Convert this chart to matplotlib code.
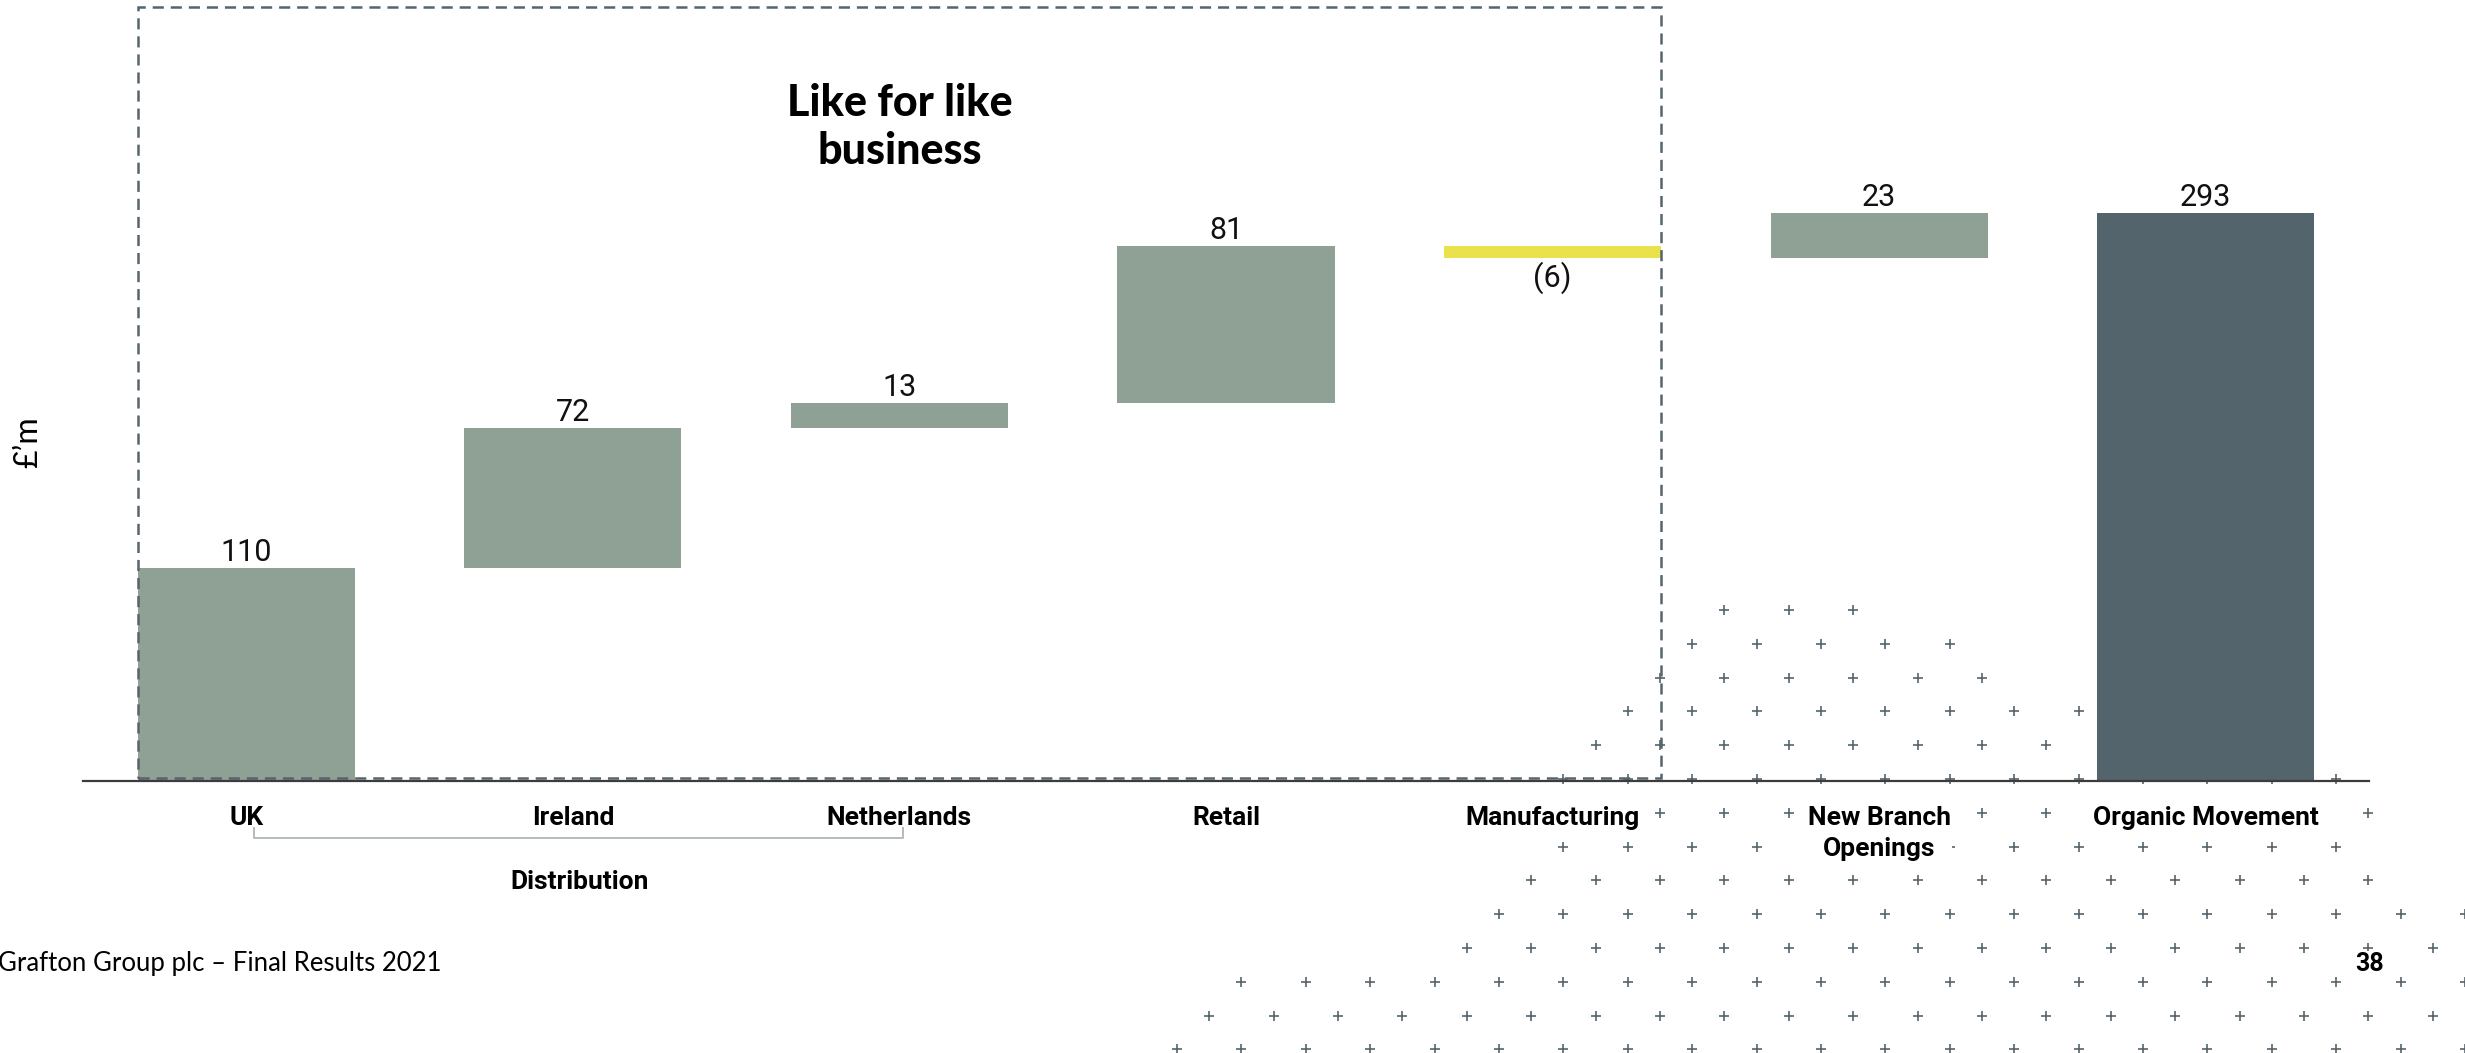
import numpy as np
import matplotlib
matplotlib.use("Agg")
import matplotlib.pyplot as plt
from matplotlib.patches import Rectangle

plt.rcParams['lines.scale_dashes'] = False

# waterfall data, £m
categories = ['UK', 'Ireland', 'Netherlands', 'Retail', 'Manufacturing',
              'New Branch\nOpenings', 'Organic Movement']
deltas = [110, 72, 13, 81, -6, 23]
total = 293

green = '#8fa095'
yellow = '#e9e24b'
slate = '#53646d'
cross_col = '#56646c'

# decorative "+" lattice: (row, first column, last column), every 2nd column
cross_rows = [(0, 3, 7), (1, 2, 10), (2, 1, 11), (3, 0, 14), (4, -1, 13),
              (5, -2, 22), (6, -1, 23), (7, -2, 22), (8, -3, 23), (9, -4, 26),
              (10, -5, 25), (11, -12, 26), (12, -13, 25), (13, -14, 26)]

W, H = 2465, 1053
fig = plt.figure(figsize=(W / 100, H / 100), dpi=100)

bg = fig.add_axes([0, 0, 1, 1], zorder=0)
bg.set_xlim(0, W)
bg.set_ylim(H, 0)
bg.axis('off')
for r, j0, j1 in cross_rows:
    js = np.arange(j0, j1 + 1, 2)
    bg.plot(1627.8 + 32.2 * js, np.full(len(js), 610 + 33.8 * r), ls='none',
            marker='+', ms=7.8, mew=1.2, color=cross_col)

ax = fig.add_axes([83 / W, 1 - 781 / H, 2286 / W, 400 * 1.938 / H], zorder=1)
ax.patch.set_alpha(0)
ax.set_xlim(-0.5, 6.5)
ax.set_ylim(0, 400)

x = np.arange(len(categories))
ends = np.cumsum(deltas)
starts = ends - np.array(deltas)
bottoms = list(np.minimum(starts, ends)) + [0]
heights = [abs(d) for d in deltas] + [total]
colors = [green, green, green, green, yellow, green, slate]
bw = 0.665
ax.bar(x, heights, bottom=bottoms, width=bw, color=colors, zorder=2)

labels = [str(d) if d >= 0 else '(%d)' % -d for d in deltas] + [str(total)]
tops = [max(s, e) for s, e in zip(starts, ends)] + [total]
for i, d in enumerate(deltas + [total]):
    if d >= 0:
        ax.annotate(labels[i], (x[i], tops[i]), xytext=(0, 5),
                    textcoords='offset points', ha='center', va='baseline',
                    family='Roboto', fontsize=22, color='#111111')
    else:
        ax.annotate(labels[i], (x[i], bottoms[i]), xytext=(0, -3),
                    textcoords='offset points', ha='center', va='top',
                    family='Roboto', fontsize=22, color='#111111')

# like-for-like box
lfl = Rectangle((-bw / 2, 1.5), 4 + bw, 398, fill=False, ec='#56646d',
                lw=1.8, ls=(0, (8, 5)), clip_on=False, zorder=3)
ax.add_patch(lfl)
ax.text(2, 343, 'Like for like', ha='center', va='baseline', family='Lato',
        weight='black', fontsize=31, color='black')
ax.text(2, 318.5, 'business', ha='center', va='baseline', family='Lato',
        weight='black', fontsize=31, color='black')

for s in ['top', 'right', 'left']:
    ax.spines[s].set_visible(False)
ax.spines['bottom'].set_color('#3c3c3c')
ax.spines['bottom'].set_linewidth(1.6)
ax.spines['bottom'].set_zorder(4)
ax.set_yticks([])
ax.set_xticks(x)
ax.set_xticklabels(categories, family='Roboto', weight='bold', fontsize=19,
                   linespacing=1.35)
ax.tick_params(axis='x', length=0, pad=18)
for lbl in ax.get_xticklabels():
    lbl.set_bbox(dict(fc='white', ec='none', pad=1))

# distribution bracket
ax.plot([0.023, 0.023, 2.01, 2.01], [-24.3, -29.4, -29.4, -24.3],
        color='#b3bdb7', lw=1.4, clip_on=False)
ax.text(1.02, -52, 'Distribution', ha='center', va='center',
        family='Roboto', weight='bold', fontsize=19)

fig.text(28 / W, 1 - 442 / H, '£’m', rotation=90, ha='center', va='center',
         family='Lato', fontsize=23)
fig.text(-2 / W, 1 - 963 / H, 'Grafton Group plc – Final Results 2021',
         ha='left', va='center', family='Lato', fontsize=18.5)
fig.text(2370 / W, 1 - 964 / H, '38', ha='center', va='center',
         family='Roboto', weight='bold', fontsize=18, zorder=5,
         bbox=dict(fc='white', ec='none', pad=1))

fig.savefig('out.png', dpi=100)
